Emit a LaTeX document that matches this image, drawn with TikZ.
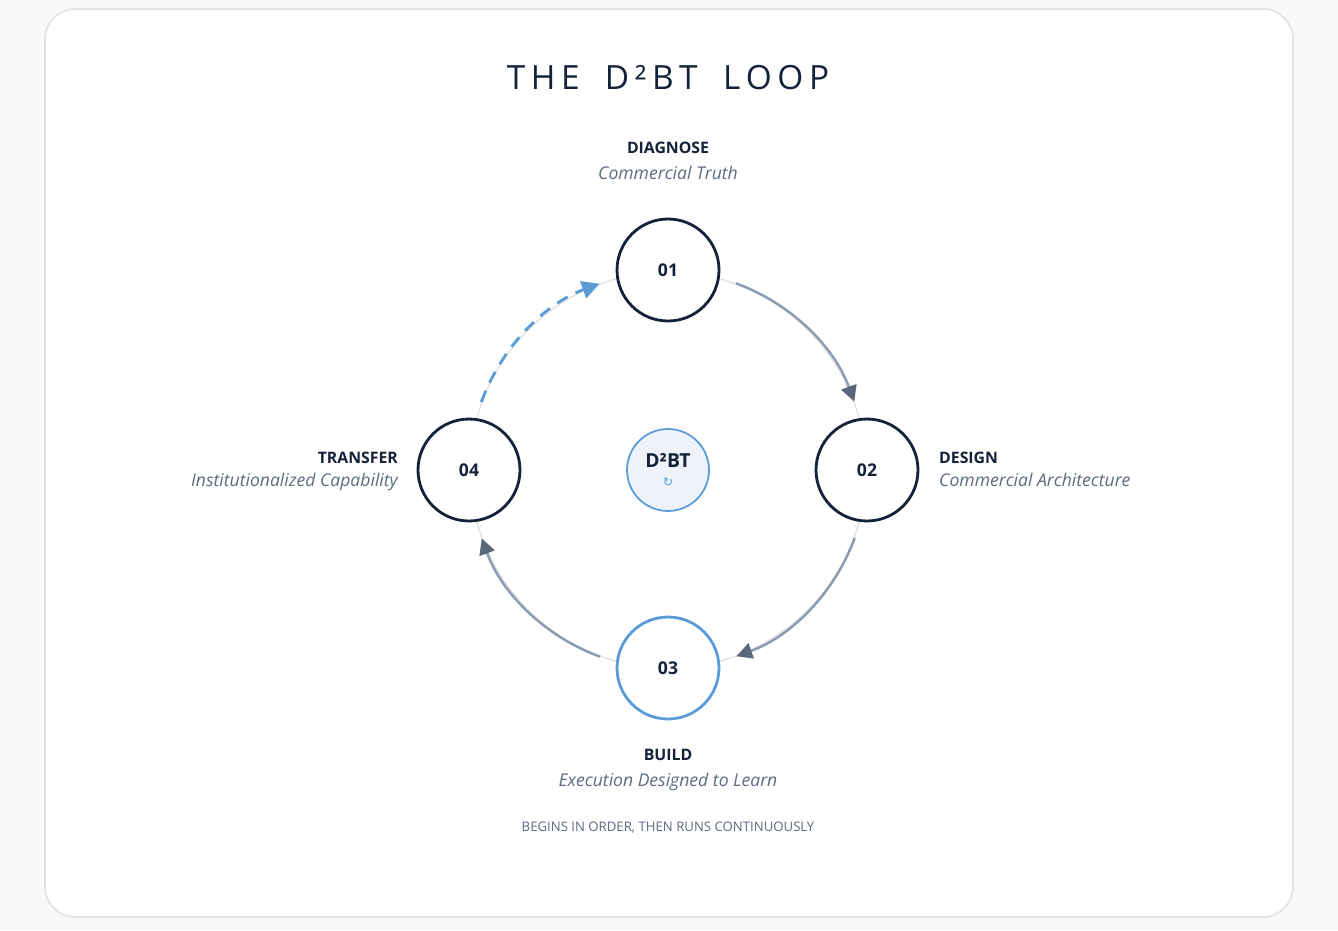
\documentclass[tikz,border=0pt]{standalone}
\usepackage{fontspec}
\setmainfont{Open Sans}
\newfontfamily\symfont{DejaVu Sans}
\usetikzlibrary{arrows.meta,positioning}
\definecolor{navy}{HTML}{14223A}
\definecolor{slate}{HTML}{5E6B80}
\definecolor{arcgray}{HTML}{8E9CB0}
\definecolor{tipgray}{HTML}{5A6779}
\definecolor{loopblue}{HTML}{5B9BD8}
\definecolor{paleblue}{HTML}{EEF3F9}
\definecolor{pagebg}{HTML}{F9F9F7}
\definecolor{cardline}{HTML}{E3E3E3}
\begin{document}
\begin{tikzpicture}[x=0.02cm,y=-0.02cm]
\tikzset{
  stage/.style={circle, draw=navy, line width=1.6pt, fill=white, minimum size=2.04cm,
    inner sep=0pt, font=\fontsize{10}{12}\selectfont\bfseries, text=navy},
  title/.style={font=\fontsize{9}{11}\selectfont\bfseries, text=navy},
  sub/.style={font=\fontsize{10}{12}\selectfont\itshape, text=slate},
  flow/.style={draw=arcgray, line width=1.4pt, -{Triangle[length=9pt,width=9pt,color=tipgray]}}
}
\fill[pagebg] (0,0) rectangle (1338,930);
\draw[cardline, fill=white, line width=1pt, rounded corners=0.6cm] (45,9) rectangle (1293,917);
\node[font=\fontsize{19}{24}\selectfont, text=navy] (head) at (668,78)
  {T\,H\,E\enspace\ D\,²\,B\,T\enspace\ L\,O\,O\,P};
% ring
\node[circle, draw=cardline, line width=0.8pt, minimum size=7.92cm, inner sep=0pt] (ring) at (668,470) {};
\draw[flow] (ring.70) arc[start angle=70, end angle=20, radius=3.96cm];
\draw[flow] (ring.-20) arc[start angle=-20, end angle=-70, radius=3.96cm];
\draw[flow] (ring.-110) arc[start angle=-110, end angle=-160, radius=3.96cm];
\draw[loopblue, line width=1.6pt, dash pattern=on 7pt off 5pt,
  -{Triangle[length=10pt,width=10pt,color=loopblue]}] (ring.160) arc[start angle=160, end angle=110, radius=3.96cm];
% stages
\node[stage] (s1) at (668,270) {01};
\node[stage] (s2) at (867,470) {02};
\node[stage, draw=loopblue] (s3) at (668,668) {03};
\node[stage] (s4) at (469,470) {04};
\node[circle, draw=loopblue, line width=1pt, fill=paleblue, minimum size=1.64cm, inner sep=0pt,
  align=center, text=navy] (core) at (668,470)
  {{\fontsize{11}{12}\selectfont\bfseries D²BT}\\[-1pt]
   {\symfont\fontsize{7}{8}\selectfont\color{loopblue}↻}};
% labels
\node[title] (t1) at (668,148) {DIAGNOSE};
\node[sub, below=0pt of t1] (d1) {Commercial Truth};
\node[title, anchor=west] (t2) at (933,458) {DESIGN};
\node[sub, anchor=north west] (d2) at ([yshift=2pt]t2.south west) {Commercial Architecture};
\node[title] (t3) at (668,755) {BUILD};
\node[sub, below=0pt of t3] (d3) {Execution Designed to Learn};
\node[title, anchor=east] (t4) at (404,458) {TRANSFER};
\node[sub, anchor=north east] (d4) at ([yshift=2pt]t4.south east) {Institutionalized Capability};
\node[font=\fontsize{7.5}{9}\selectfont, text=slate] (foot) at (668,828) {BEGINS IN ORDER, THEN RUNS CONTINUOUSLY};
\end{tikzpicture}
\end{document}
